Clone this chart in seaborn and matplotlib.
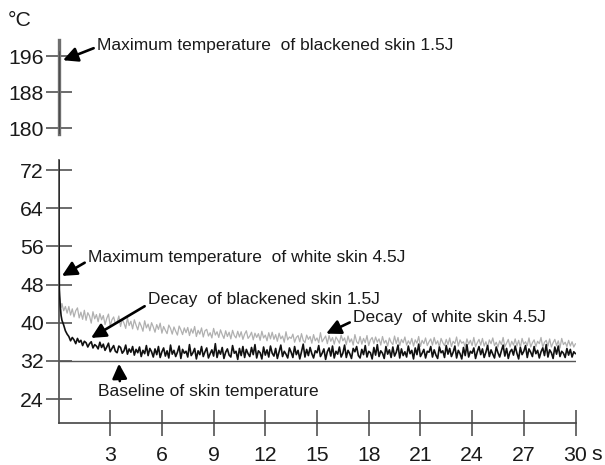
import numpy as np
import pandas as pd
import matplotlib
matplotlib.use("Agg")
import matplotlib.pyplot as plt
import seaborn as sns

# ---------------- data ----------------
early_t = [0.0, 0.02, 0.05, 0.1, 0.15, 0.2, 0.3, 0.4, 0.5]
late_start = 0.6
step_t = 0.1  # sampling interval after the initial decay
black_early = [197, 62, 47, 43.5, 41.5, 40.5, 39.5, 38.3, 37.6]
white_early = [50, 47.5, 45.5, 44.5, 43.2, 44.0, 42.5, 43.4, 42.0]

black_skin = [
    37.1, 36.2, 36.9, 36.4, 35.6, 36.7, 35.9, 36.3, 35.2, 36.1,
    35.8, 34.9, 35.6, 36.0, 34.7, 35.4, 35.1, 34.5, 35.9, 34.8,
    35.5, 34.2, 34.9, 35.7, 33.9, 34.6, 35.2, 34.0, 33.7, 35.1,
    34.8, 33.6, 34.1, 35.3, 33.4, 34.5, 33.8, 35.0, 33.2, 34.4,
    33.7, 34.9, 32.9, 34.2, 33.5, 35.2, 33.1, 34.6, 33.9, 32.8,
    34.5, 33.3, 35.0, 32.7, 33.9, 34.7, 33.0, 34.1, 32.6, 35.3,
    33.4, 34.2, 32.9, 33.8, 35.1, 32.5, 34.4, 33.6, 34.0, 32.8,
    35.4, 33.1, 33.7, 34.6, 32.4, 34.1, 33.3, 35.0, 32.9, 33.9,
    34.7, 32.6, 33.5, 34.3, 33.0, 35.6, 32.7, 34.2, 33.4, 34.8,
    32.5, 33.8, 34.5, 33.2, 32.8, 35.2, 33.6, 34.0, 32.3, 34.6,
    33.1, 35.0, 32.7, 34.4, 33.5, 32.9, 34.8, 33.3, 35.4, 32.6,
    34.1, 33.7, 32.4, 34.9, 33.2, 34.3, 32.8, 35.1, 33.6, 33.0,
    34.6, 32.5, 33.9, 35.3, 32.9, 34.0, 33.4, 32.6, 34.7, 33.8,
    32.7, 35.0, 33.3, 34.2, 32.4, 33.9, 35.5, 32.8, 34.4, 33.1,
    34.8, 33.5, 32.6, 34.1, 33.7, 35.2, 32.9, 33.6, 34.5, 32.3,
    33.9, 34.7, 33.0, 35.1, 32.6, 34.0, 33.4, 34.9, 32.8, 33.6,
    35.3, 32.7, 34.2, 33.5, 32.5, 34.6, 33.9, 35.0, 33.1, 32.6,
    34.4, 33.3, 35.2, 32.8, 34.0, 33.7, 32.4, 34.8, 33.2, 35.4,
    32.9, 34.1, 33.6, 32.5, 35.0, 33.4, 34.3, 32.7, 34.9, 33.0,
    33.8, 35.3, 32.6, 34.5, 33.1, 33.9, 32.8, 35.1, 33.5, 34.2,
    32.4, 34.7, 33.3, 35.5, 32.9, 33.6, 34.4, 32.6, 34.0, 33.8,
    35.0, 32.8, 34.3, 33.2, 32.5, 34.9, 33.7, 34.1, 32.7, 35.2,
    33.4, 34.6, 32.9, 33.8, 35.1, 32.6, 34.2, 33.5, 32.4, 34.8,
    33.1, 35.4, 32.8, 34.0, 33.6, 34.7, 32.5, 33.9, 35.0, 33.3,
    34.5, 32.7, 33.8, 35.2, 32.9, 34.3, 33.4, 32.6, 34.9, 33.7,
    32.8, 34.1, 35.3, 33.0, 34.6, 32.5, 33.9, 34.4, 33.2, 35.1,
    33.6, 32.4, 34.8, 33.3, 34.0, 35.2, 32.7, 34.5, 33.8, 32.9,
    35.0, 33.5, 34.2, 32.6, 33.9, 34.7, 33.1, 35.4, 32.8, 34.3,
    33.7, 32.5, 34.9, 33.4, 35.1, 32.9, 34.0, 33.6, 32.7, 34.6,
    33.2, 34.4, 32.8, 33.9, 33.5,
]

white_skin = [
    43.4, 41.6, 42.9, 41.2, 42.5, 43.1, 41.0, 42.2, 40.7, 42.6,
    40.5, 42.1, 41.4, 39.9, 42.3, 40.8, 41.7, 40.2, 41.9, 40.6,
    41.5, 39.6, 40.9, 41.8, 39.3, 40.6, 41.2, 39.8, 40.1, 41.4,
    39.2, 40.7, 39.9, 38.8, 41.0, 39.4, 40.3, 38.7, 40.6, 39.5,
    38.5, 40.1, 39.3, 38.2, 40.4, 38.9, 39.7, 38.3, 40.0, 39.1,
    38.0, 39.6, 38.6, 39.9, 37.8, 39.2, 38.4, 37.7, 39.5, 38.8,
    37.6, 39.1, 38.2, 37.4, 39.3, 38.5, 37.5, 38.9, 37.9, 39.0,
    37.3, 38.7, 37.8, 39.2, 37.1, 38.4, 37.6, 38.9, 37.0, 38.3,
    38.6, 37.2, 37.9, 36.8, 38.8, 37.4, 38.1, 36.9, 38.5, 37.5,
    36.7, 38.3, 37.1, 38.0, 36.6, 38.4, 37.3, 36.8, 38.2, 37.0,
    38.1, 36.5, 37.6, 38.3, 36.7, 37.2, 38.0, 36.4, 37.8, 36.9,
    37.7, 36.3, 38.2, 36.8, 37.4, 36.2, 37.9, 36.6, 38.0, 36.5,
    37.5, 36.1, 37.8, 36.6, 37.2, 35.9, 38.1, 36.4, 37.0, 36.7,
    37.6, 35.9, 36.9, 37.3, 36.0, 37.7, 36.3, 35.8, 37.4, 36.5,
    37.1, 35.7, 37.5, 36.2, 36.8, 35.8, 37.9, 36.0, 36.6, 37.2,
    35.6, 37.3, 36.1, 36.9, 35.5, 37.0, 36.4, 35.7, 37.4, 36.2,
    36.8, 35.4, 37.2, 35.9, 36.6, 35.3, 37.5, 36.0, 35.6, 37.1,
    35.5, 36.7, 35.8, 37.3, 35.2, 36.4, 36.9, 35.6, 37.0, 35.9,
    36.6, 35.3, 37.1, 35.7, 36.3, 35.1, 36.8, 35.9, 35.4, 37.2,
    35.6, 36.9, 35.2, 36.5, 35.8, 37.0, 35.3, 36.2, 35.5, 36.7,
    35.1, 36.4, 35.7, 37.1, 35.0, 36.3, 35.6, 36.8, 35.2, 36.0,
    36.6, 35.3, 36.9, 35.5, 36.2, 34.9, 36.7, 35.8, 35.2, 36.5,
    35.4, 36.8, 35.0, 36.1, 35.6, 37.0, 35.1, 36.4, 35.7, 36.0,
    34.9, 36.6, 35.5, 36.3, 35.2, 36.9, 35.0, 35.8, 36.5, 35.3,
    36.7, 35.1, 36.0, 34.8, 36.4, 35.6, 36.8, 35.2, 35.9, 34.9,
    36.2, 35.4, 36.9, 35.0, 35.7, 36.5, 34.9, 36.1, 35.3, 36.6,
    35.1, 36.3, 34.8, 36.7, 35.5, 36.0, 35.2, 36.8, 34.9, 35.8,
    36.4, 35.0, 36.1, 35.6, 36.9, 34.8, 35.9, 36.3, 35.1, 36.6,
    34.9, 35.8, 36.5, 35.2, 36.2, 34.7, 36.7, 35.4, 35.9, 35.0,
    36.3, 35.1, 36.0, 34.9, 35.6,
]

baseline_temp = 32
upper_ticks = [180, 188, 196]
lower_ticks = [24, 32, 40, 48, 56, 64, 72]
x_ticks = [3, 6, 9, 12, 15, 18, 21, 24, 27, 30]


def times_for(values):
    return early_t + list(np.round(late_start + step_t * np.arange(len(values)), 2))


t_black = times_for(black_skin)
t_white = times_for(white_skin)
df_black = pd.DataFrame({"time": t_black, "temp": black_early + black_skin})
df_white = pd.DataFrame({"time": t_white, "temp": white_early + white_skin})

# ---------------- style ----------------
sns.set_style("ticks")
plt.rcParams["font.family"] = ["Liberation Sans", "DejaVu Sans"]
TXT = "#1a1a1a"
FS_TICK = 15.3
FS_ANN = 12.5

fig = plt.figure(figsize=(6.05, 4.65), dpi=100)
W, H = 605.0, 465.0
x0, x1 = 58.5 / W, 575.5 / W
ax_up = fig.add_axes([x0, 1 - 134 / H, x1 - x0, (134 - 40) / H])
ax_lo = fig.add_axes([x0, 1 - 423 / H, x1 - x0, (423 - 160) / H])

for ax in (ax_up, ax_lo):
    ax.set_facecolor("none")
    sns.lineplot(data=df_white, x="time", y="temp", ax=ax,
                 color="#b0b0b0", lw=0.9, legend=False, zorder=2)
    sns.lineplot(data=df_black, x="time", y="temp", ax=ax,
                 color="#111111", lw=1.2, legend=False, zorder=3)
    ax.set_xlim(0, 30)
    ax.set_xlabel("")
    ax.set_ylabel("")
    for s in ("top", "right"):
        ax.spines[s].set_visible(False)

ax_lo.hlines(baseline_temp, t_black[0], t_black[-1], color="#555555", lw=1.0, zorder=1)

# upper panel
ax_up.set_ylim(178.7, 199.6)
ax_up.set_yticks(upper_ticks)
ax_up.spines["bottom"].set_visible(False)
ax_up.tick_params(axis="x", which="both", bottom=False, labelbottom=False)
ax_up.spines["left"].set_color("#6e6e6e")
ax_up.spines["left"].set_linewidth(2.4)

# lower panel
ax_lo.set_ylim(18.97, 74.1)
ax_lo.set_yticks(lower_ticks)
ax_lo.set_xticks(x_ticks)
ax_lo.spines["left"].set_color("#555555")
ax_lo.spines["left"].set_linewidth(1.3)
ax_lo.spines["bottom"].set_color("#444444")
ax_lo.spines["bottom"].set_linewidth(1.2)

for ax in (ax_up, ax_lo):
    ax.tick_params(axis="y", direction="inout", length=19, width=1.1,
                   color="#444444", labelsize=FS_TICK, labelcolor=TXT, pad=1)
ax_lo.tick_params(axis="x", direction="inout", length=19, width=1.1,
                  color="#444444", labelsize=FS_TICK, labelcolor=TXT, pad=7)

arrow = dict(arrowstyle="-|>", color="black", lw=1.9, mutation_scale=22,
             shrinkA=0, shrinkB=0)

ax_up.annotate("Maximum temperature  of blackened skin 1.5J",
               xy=(0.26, 195.1), xytext=(2.23, 198.4), fontsize=FS_ANN, color=TXT,
               ha="left", va="center", arrowprops=dict(arrow, relpos=(0, 0.4)),
               annotation_clip=False)
ax_lo.annotate("Maximum temperature  of white skin 4.5J",
               xy=(0.2, 49.8), xytext=(1.71, 53.6), fontsize=FS_ANN, color=TXT,
               ha="left", va="center", arrowprops=dict(arrow, relpos=(0, 0.3)))
ax_lo.annotate("Decay  of blackened skin 1.5J",
               xy=(1.89, 36.8), xytext=(5.19, 44.8), fontsize=FS_ANN, color=TXT,
               ha="left", va="center", arrowprops=dict(arrow, relpos=(0, 0.2)))
ax_lo.annotate("Decay  of white skin 4.5J",
               xy=(15.53, 37.7), xytext=(17.09, 41.0), fontsize=FS_ANN, color=TXT,
               ha="left", va="center", arrowprops=dict(arrow, relpos=(0, 0.3)))
ax_lo.annotate("Baseline of skin temperature",
               xy=(3.51, 31.4), xytext=(2.29, 25.5), fontsize=FS_ANN, color=TXT,
               ha="left", va="center",
               arrowprops=dict(arrow, relpos=(0.1, 0.9)))

fig.text(8 / W, 1 - 21 / H, "°C", fontsize=FS_TICK, color=TXT, ha="left", va="center")
fig.text(597 / W, 1 - 454 / H, "s", fontsize=FS_TICK, color=TXT, ha="center", va="center")

fig.savefig("out.png", dpi=100)
